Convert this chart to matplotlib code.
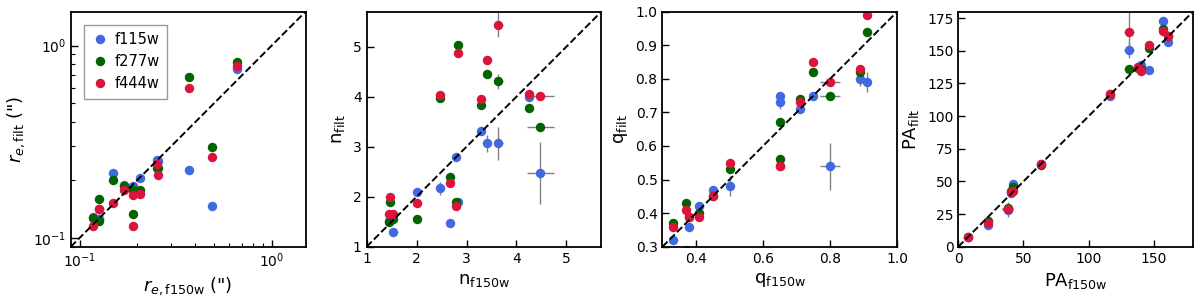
import numpy as np
import matplotlib
matplotlib.use('Agg')
import matplotlib.pyplot as plt

#%% data, one entry per galaxy

filters = ['f115w', 'f277w', 'f444w']
colors = ['royalblue', 'darkgreen', 'crimson']

# effective radius (arcsec)
re_x = [0.1175, 0.1263, 0.1263, 0.149, 0.171, 0.189, 0.190, 0.2065, 0.254,
        0.256, 0.373, 0.488, 0.656]
re_f115 = [0.129, 0.126, 0.126, 0.217, 0.188, 0.187, 0.185, 0.205, 0.254,
           0.250, 0.226, 0.146, 0.759]
re_f277 = [0.1276, 0.1227, 0.160, 0.1996, 0.187, 0.177, 0.133, 0.177, 0.2306,
           0.2306, 0.690, 0.298, 0.819]
re_f444 = [0.1155, 0.141, 0.141, 0.1528, 0.178, 0.168, 0.1155, 0.170, 0.242,
           0.212, 0.602, 0.264, 0.780]

# sersic index
n_x = [1.44, 1.46, 1.53, 2.00, 2.47, 2.66, 2.79, 2.83, 3.28, 3.40, 3.64,
       4.25, 4.48]
n_f115 = [1.52, 1.55, 1.30, 2.09, 2.17, 1.48, 2.79, 1.90, 3.32, 3.07, 3.07,
          4.00, 2.48]
n_f277 = [1.49, 1.89, 1.56, 1.55, 3.98, 2.39, 1.89, 5.03, 3.84, 4.45, 4.31,
          3.78, 3.39]
n_f444 = [1.65, 2.00, 1.65, 1.87, 4.03, 2.28, 1.82, 4.88, 3.96, 4.74, 5.44,
          4.06, 4.01]
n_xerr = [0, 0, 0, 0, 0, 0, 0, 0, 0, 0, 0.10, 0, 0.27]
n_f115_err = [0, 0, 0, 0, 0.13, 0, 0, 0, 0, 0.17, 0.33, 0, 0.62]
n_f277_err = [0, 0, 0, 0, 0, 0, 0, 0, 0, 0, 0.15, 0, 0]
n_f444_err = [0, 0, 0, 0, 0, 0, 0, 0, 0, 0, 0.25, 0, 0]

# axis ratio
q_x = [0.33, 0.37, 0.38, 0.41, 0.45, 0.50, 0.65, 0.65, 0.71, 0.75, 0.80,
       0.89, 0.91]
q_f115 = [0.32, 0.29, 0.36, 0.42, 0.47, 0.48, 0.75, 0.73, 0.71, 0.75, 0.54,
          0.80, 0.79]
q_f277 = [0.37, 0.43, 0.39, 0.40, 0.45, 0.53, 0.67, 0.56, 0.74, 0.82, 0.75,
          0.82, 0.94]
q_f444 = [0.36, 0.41, 0.39, 0.39, 0.45, 0.55, 0.54, 0.54, 0.73, 0.85, 0.79,
          0.83, 0.99]
q_xerr = [0, 0, 0, 0, 0, 0, 0, 0, 0, 0, 0.03, 0, 0]
q_f115_err = [0, 0, 0, 0, 0, 0.03, 0, 0.02, 0, 0, 0.07, 0.02, 0.03]
q_f277_err = [0] * 13
q_f444_err = [0] * 13

# position angle (deg)
pa_x = [7.7, 23.0, 37.8, 40.8, 41.6, 63.4, 116.3, 130.9, 137.8, 139.8,
        146.0, 156.7, 160.6]
pa_f115 = [7.7, 16.6, 28.5, 40.8, 47.7, 63.0, 115.5, 150.6, 137.5, 139.1,
           135.3, 172.8, 157.0]
pa_f277 = [7.7, 19.7, 29.5, 42.5, 46.0, 62.5, 117.0, 136.1, 136.6, 136.0,
           152.4, 166.5, 161.0]
pa_f444 = [7.7, 17.9, 28.8, 42.1, 42.5, 63.3, 116.7, 164.7, 137.4, 134.8,
           154.5, 165.2, 161.3]
pa_xerr = [0, 0, 4, 0, 0, 0, 0, 4, 0, 0, 0, 0, 0]
pa_f115_err = [0, 0, 6, 0, 0, 0, 0, 6, 0, 0, 0, 0, 0]
pa_f277_err = [0] * 13
pa_f444_err = [0, 0, 0, 0, 0, 0, 0, 15, 0, 0, 0, 0, 0]

#%%

def panel(ax, x, ys, xerr=None, yerrs=None):
    """
    Scatter the three filters against f150w with grey error bars
    """
    for i, y in enumerate(ys):
        yerr = None if yerrs is None else yerrs[i]
        ax.errorbar(x, y, xerr=xerr, yerr=yerr, fmt='o', ms=6.8, mew=0,
                    color=colors[i], ecolor='gray', elinewidth=1,
                    label=filters[i])
    ax.tick_params(which='both', direction='in', labelsize=10)
    ax.tick_params(which='major', length=5, width=1)
    ax.tick_params(which='minor', length=3, width=0.8)
    for sp in ax.spines.values():
        sp.set_linewidth(1.3)


def one_to_one(ax, lo, hi):
    ax.plot([lo, hi], [lo, hi], 'k--', lw=1.4, zorder=5)
    ax.set_xlim(lo, hi)
    ax.set_ylim(lo, hi)


fig, axs = plt.subplots(1, 4, figsize=(12, 2.98), dpi=100)
fig.subplots_adjust(left=0.059, right=0.9942, bottom=0.172, top=0.961,
                    wspace=0.26)

# r_e
ax = axs[0]
panel(ax, re_x, [re_f115, re_f277, re_f444])
ax.set_xscale('log')
ax.set_yscale('log')
one_to_one(ax, 0.09, 1.5)
ax.set_xlabel(r'$r_{e,\rm f150w}$ (")', fontsize=13)
ax.set_ylabel(r'$r_{e,\rm filt}$ (")', fontsize=13)
leg = ax.legend(loc='upper left', bbox_to_anchor=(0.055, 0.945),
                borderaxespad=0, fontsize=10.5, fancybox=False,
                edgecolor='gray', handletextpad=0.4, borderpad=0.5,
                handlelength=1.2)
leg.get_frame().set_linewidth(1.0)

# sersic n
ax = axs[1]
panel(ax, n_x, [n_f115, n_f277, n_f444], n_xerr,
      [n_f115_err, n_f277_err, n_f444_err])
one_to_one(ax, 1, 5.7)
ax.set_xticks([1, 2, 3, 4, 5])
ax.set_yticks([1, 2, 3, 4, 5])
ax.set_xlabel(r'n$_{\rm f150w}$', fontsize=13)
ax.set_ylabel(r'n$_{\rm filt}$', fontsize=13)

# axis ratio q
ax = axs[2]
panel(ax, q_x, [q_f115, q_f277, q_f444], q_xerr,
      [q_f115_err, q_f277_err, q_f444_err])
one_to_one(ax, 0.3, 1.0)
ax.set_xticks([0.4, 0.6, 0.8, 1.0])
ax.set_yticks(np.arange(0.3, 1.01, 0.1))
ax.set_xlabel(r'q$_{\rm f150w}$', fontsize=13)
ax.set_ylabel(r'q$_{\rm filt}$', fontsize=13)

# position angle
ax = axs[3]
panel(ax, pa_x, [pa_f115, pa_f277, pa_f444], pa_xerr,
      [pa_f115_err, pa_f277_err, pa_f444_err])
one_to_one(ax, 0, 180)
ax.set_xticks([0, 50, 100, 150])
ax.set_yticks(np.arange(0, 176, 25))
ax.set_xlabel(r'PA$_{\rm f150w}$', fontsize=13)
ax.set_ylabel(r'PA$_{\rm filt}$', fontsize=13)

plt.savefig('out.png', dpi=100)
